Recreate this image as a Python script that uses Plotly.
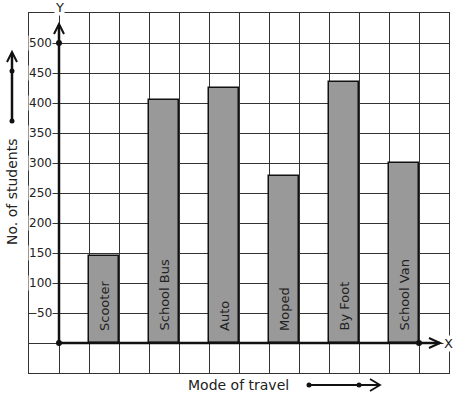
import plotly.graph_objects as go

# ---- data ----
modes = ["Scooter", "School Bus", "Auto", "Moped", "By Foot", "School Van"]
students = [145, 405, 425, 278, 435, 300]
y_ticks = [50, 100, 150, 200, 250, 300, 350, 400, 450, 500]
x_title = "Mode of travel"
y_title = "No. of students"

W, H = 457, 399
X0PX, X1PX = 29, 449      # grid left/right in px
Y0PX, Y1PX = 13, 373      # grid top/bottom in px
XR = [-1, 13]
YR = [-50, 550]


def px(x):
    return x / W


def py(y):
    return 1 - y / H


positions = [2 * i + 1.5 for i in range(len(modes))]

fig = go.Figure()
fig.add_trace(go.Bar(
    x=positions, y=students, width=1,
    marker=dict(color="#999999", line=dict(color="#111", width=1.5)),
    hoverinfo="skip", showlegend=False,
))

# dots on axes
fig.add_trace(go.Scatter(
    x=[0, 0, 12], y=[0, 500, 0], mode="markers",
    marker=dict(color="#111", size=6), showlegend=False, hoverinfo="skip",
))

grid = dict(showgrid=True, gridcolor="#333", gridwidth=1, zeroline=False,
            showline=True, mirror=True, linecolor="#333", linewidth=1,
            showticklabels=False, ticks="", fixedrange=True)

fig.update_layout(
    width=W, height=H, margin=dict(l=0, r=0, t=0, b=0),
    paper_bgcolor="white", plot_bgcolor="white",
    font=dict(family="DejaVu Sans", color="#222"),
    xaxis=dict(range=XR, dtick=1, tick0=-1,
               domain=[px(X0PX), px(X1PX)], **grid),
    yaxis=dict(range=YR, dtick=50, tick0=-50,
               domain=[py(Y1PX), py(Y0PX)], **grid),
    bargap=0,
)

ann = []
for v in y_ticks:
    ann.append(dict(x=0, y=v, xref="x", yref="y", text=str(v), showarrow=False,
                    xanchor="right", yanchor="middle", xshift=-6,
                    bgcolor="white", borderpad=0,
                    font=dict(size=12, color="#222")))
for xp, m in zip(positions, modes):
    ann.append(dict(x=xp, y=0, xref="x", yref="y", text=m, showarrow=False,
                    textangle=-90, xanchor="center", yanchor="bottom", yshift=10,
                    font=dict(size=13, color="#222")))
ann.append(dict(x=0, y=550, xref="x", yref="y", text="Y", showarrow=False,
                xanchor="center", yanchor="middle", yshift=5, bgcolor="white",
                borderpad=0, font=dict(size=13, color="#222")))
ann.append(dict(x=px(448), y=py(343), xref="paper", yref="paper", text="X",
                showarrow=False, xanchor="center", yanchor="middle",
                bgcolor="white", borderpad=0, font=dict(size=13, color="#222")))
ann.append(dict(x=px(238), y=py(385), xref="paper", yref="paper", text=x_title,
                showarrow=False, xanchor="center", yanchor="middle",
                font=dict(size=14, color="#222")))
ann.append(dict(x=px(12), y=py(192), xref="paper", yref="paper", text=y_title,
                showarrow=False, textangle=-90, xanchor="center", yanchor="middle",
                font=dict(size=14, color="#222")))
fig.update_layout(annotations=ann)

shapes = []
LW = 2.5


def seg(x0, y0, x1, y1, w=LW):
    shapes.append(dict(type="line", xref="paper", yref="paper",
                       x0=px(x0), y0=py(y0), x1=px(x1), y1=py(y1),
                       line=dict(color="#111", width=w), layer="above"))


def chevron(pts, w=2):
    path = "M {} {} L {} {} L {} {}".format(
        px(pts[0][0]), py(pts[0][1]), px(pts[1][0]), py(pts[1][1]),
        px(pts[2][0]), py(pts[2][1]))
    shapes.append(dict(type="path", xref="paper", yref="paper", path=path,
                       line=dict(color="#111", width=w), layer="above"))


def dot(x, y, r=2.5):
    shapes.append(dict(type="circle", xref="paper", yref="paper",
                       x0=px(x - r), x1=px(x + r), y0=py(y - r), y1=py(y + r),
                       fillcolor="#111", line=dict(color="#111", width=0),
                       layer="above"))


# main axes
seg(59, 343, 59, 25)
seg(59, 343, 440, 343)
chevron([(54, 34), (59, 24), (64, 34)])
chevron([(429, 338), (440, 343), (429, 348)])
# left arrow
seg(12, 121, 12, 53, 2.5)
chevron([(7, 62), (12, 52), (17, 62)])
dot(12, 71)
dot(12, 121)
# bottom arrow
seg(309, 385, 379, 385, 2)
chevron([(370, 379), (380, 385), (370, 391)], 1.8)
dot(309, 385)
dot(359, 385)

fig.update_layout(shapes=shapes)
fig.write_html("out.html")
